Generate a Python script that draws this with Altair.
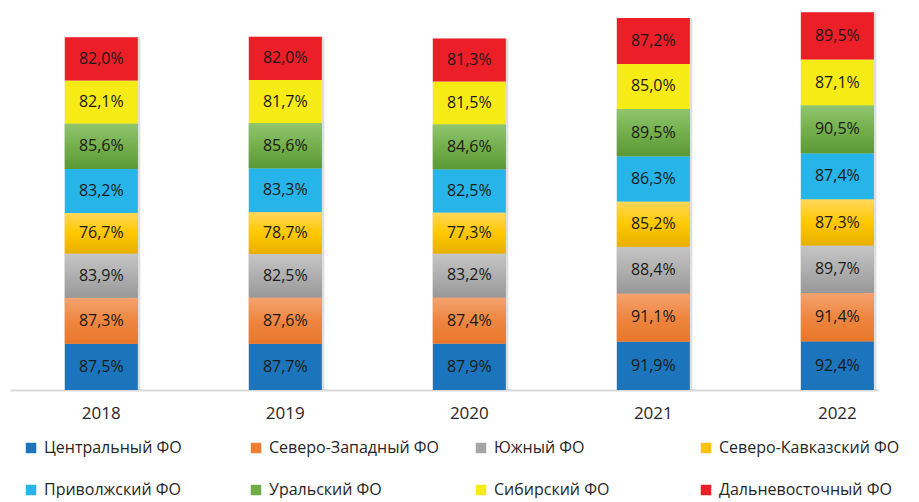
import altair as alt
import pandas as pd

years = ["2018", "2019", "2020", "2021", "2022"]
districts = [
    "Центральный ФО",
    "Северо-Западный ФО",
    "Южный ФО",
    "Северо-Кавказский ФО",
    "Приволжский ФО",
    "Уральский ФО",
    "Сибирский ФО",
    "Дальневосточный ФО",
]
central = [87.5, 87.7, 87.9, 91.9, 92.4]
northwest = [87.3, 87.6, 87.4, 91.1, 91.4]
south = [83.9, 82.5, 83.2, 88.4, 89.7]
ncaucasus = [76.7, 78.7, 77.3, 85.2, 87.3]
volga = [83.2, 83.3, 82.5, 86.3, 87.4]
ural = [85.6, 85.6, 84.6, 89.5, 90.5]
siberia = [82.1, 81.7, 81.5, 85.0, 87.1]
fareast = [82.0, 82.0, 81.3, 87.2, 89.5]
series = [central, northwest, south, ncaucasus, volga, ural, siberia, fareast]

colors = ["#1C75BC", "#EE7F32", "#A6A6A6", "#FFC20E",
          "#27B4E8", "#6FAE47", "#F6EB15", "#EC1E27"]
gradients = {
    "Северо-Западный ФО": ["#F5A36F", "#EE8640", "#E8772A"],
    "Южный ФО": ["#C6C6C6", "#AFAFAF", "#989898"],
    "Северо-Кавказский ФО": ["#FFD75C", "#FFC800", "#E8B000"],
    "Уральский ФО": ["#90C56F", "#74AF4C", "#5B9936"],
}

rows = []
for k, (name, vals) in enumerate(zip(districts, series)):
    for yr, v in zip(years, vals):
        rows.append({"year": yr, "district": name, "order": k, "value": v})
df = pd.DataFrame(rows)

FONT = "Open Sans"
TOP = len(districts) - 1

base = alt.Chart(df).transform_stack(
    stack="value", as_=["y0", "y1"], groupby=["year"],
    sort=[alt.SortField("order", order="ascending")]
).transform_calculate(
    mid="(datum.y0 + datum.y1) / 2",
    zero="0",
    label="replace(format(datum.value, '.1f'), '.', ',') + '%'",
)

x = alt.X(
    "year:N",
    sort=years,
    scale=alt.Scale(paddingInner=0.603, paddingOuter=0.16, align=0.93),
    axis=alt.Axis(title=None, labelAngle=0, ticks=False, domainColor="#D9D9D9",
                  domainWidth=2, labelFontSize=17, labelPadding=15,
                  labelColor="#262626", labelFont=FONT, grid=False),
)
yscale = alt.Scale(domain=[0, 719.7], nice=False, zero=True)
y = alt.Y("y0:Q", scale=yscale, axis=None)
y2 = alt.Y2("y1:Q")

shadow = base.transform_filter(alt.datum.order == TOP).mark_bar(
    color="#000000", opacity=0.13, xOffset=2.5
).encode(x=x, y=alt.Y("zero:Q", scale=yscale, axis=None), y2=y2)

bars = base.mark_bar().encode(
    x=x, y=y, y2=y2,
    color=alt.Color(
        "district:N",
        scale=alt.Scale(domain=districts, range=colors),
        legend=alt.Legend(
            title=None, orient="none", direction="horizontal",
            legendX=13, legendY=430, columns=4,
            gridAlign="all", columnPadding=23, rowPadding=26,
            symbolType="square", symbolSize=110, symbolStrokeWidth=0,
            labelFontSize=16, labelFont=FONT, labelColor="#262626",
            padding=0, labelLimit=400, labelOffset=5,
        ),
    ),
)

layers = [shadow, bars]
for name, stops in gradients.items():
    grad = alt.Gradient(
        gradient="linear", x1=0, y1=0, x2=0, y2=1,
        stops=[alt.GradientStop(color=stops[0], offset=0),
               alt.GradientStop(color=stops[1], offset=0.5),
               alt.GradientStop(color=stops[2], offset=1)],
    )
    layers.append(
        base.transform_filter(alt.datum.district == name)
        .mark_bar(color=grad)
        .encode(x=x, y=y, y2=y2)
    )

text = base.mark_text(font=FONT, fontSize=16, color="#1A1A1A").encode(
    x=x, y=alt.Y("mid:Q", scale=yscale, axis=None), text="label:N"
)
layers.append(text)

chart = alt.layer(*layers).properties(
    width=868, height=380,
    padding={"left": 2, "top": 2, "right": 0, "bottom": 0},
).configure_view(stroke=None)

chart.save("out.html", embed_options={"renderer": "svg", "actions": False})
